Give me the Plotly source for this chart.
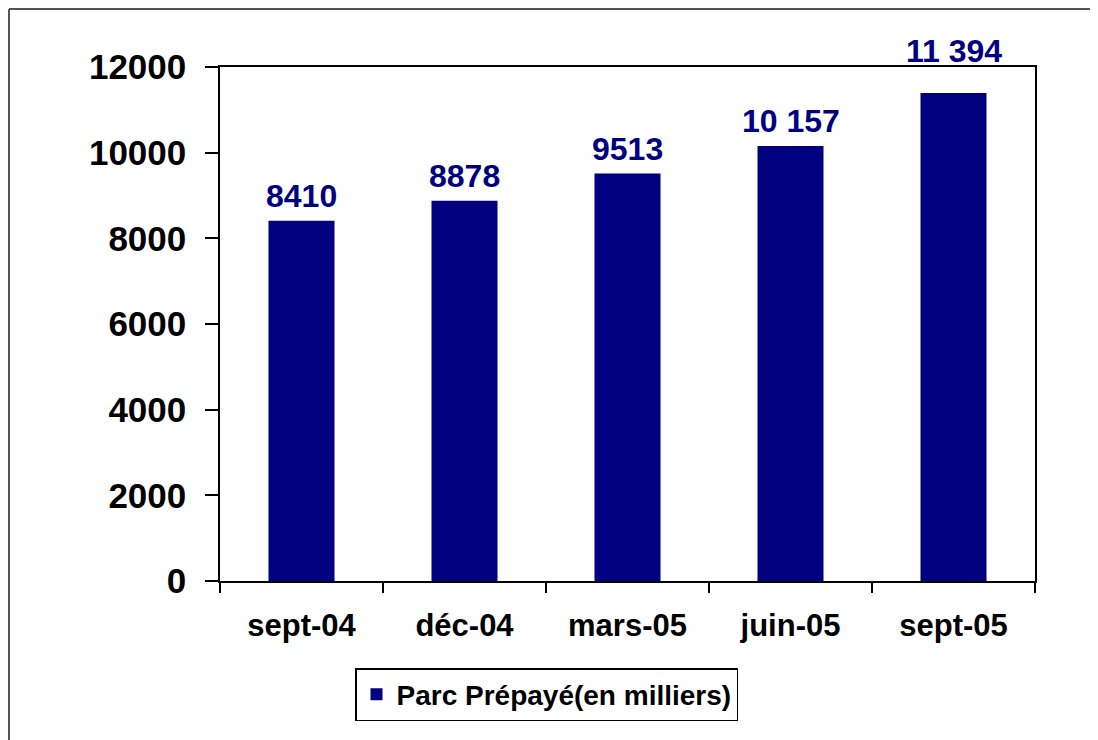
import plotly.graph_objects as go

categories = ["sept-04", "déc-04", "mars-05", "juin-05", "sept-05"]
values = [8410, 8878, 9513, 10157, 11394]
value_labels = ["8410", "8878", "9513", "10 157", "11 394"]
y_ticks = [0, 2000, 4000, 6000, 8000, 10000, 12000]
y_tick_labels = ["0", "2000", "4000", "6000", "8000", "10000", "12000"]
series_name = "Parc Prépayé(en milliers)"

# style: vertical offset (px) of each value label above its bar
label_shifts = [5, 5, 5, 5, 22]

NAVY = "#000080"
FONT = "Arial, Liberation Sans, sans-serif"

# page is offset by 8px body margin; figure fills the rest of the window
W, H = 1090, 732
OFF = 8
L, R, T, B = 220 - OFF, 1035 - OFF, 67 - OFF, 581 - OFF

def px(X):
    return (X - OFF - L) / (R - L)

def py(Y):
    return (B - (Y - OFF)) / (B - T)

fig = go.Figure()
fig.add_trace(go.Bar(
    x=categories, y=values, name=series_name,
    marker=dict(color=NAVY, line=dict(width=0)),
    cliponaxis=False,
))

for c, v, lab, sh in zip(categories, values, value_labels, label_shifts):
    fig.add_annotation(
        x=c, y=v, text=lab, showarrow=False,
        yanchor="bottom", yshift=sh,
        font=dict(family=FONT, size=32, color=NAVY, weight="bold"),
    )

fig.update_layout(
    width=W, height=H,
    margin=dict(l=L, r=W - R, t=T, b=H - B),
    paper_bgcolor="white", plot_bgcolor="white",
    bargap=0.595,
    showlegend=True,
    legend=dict(
        x=px(355), xanchor="left", y=py(668), yanchor="top",
        orientation="h",
        bordercolor="black", borderwidth=1.5,
        font=dict(family=FONT, size=28, color="black", weight="bold"),
        bgcolor="white",
    ),
    xaxis=dict(
        showline=True, linecolor="black", linewidth=1.5, mirror=True,
        ticks="outside", ticklen=10, tickcolor="black", tickwidth=1.5,
        tickson="boundaries", ticklabelstandoff=16,
        tickfont=dict(family=FONT, size=31, color="black", weight="bold"),
        showgrid=False,
    ),
    yaxis=dict(
        range=[0, 12000], tickvals=y_ticks, ticktext=y_tick_labels,
        showline=True, linecolor="black", linewidth=1.5, mirror=True,
        ticks="outside", ticklen=13, tickcolor="black", tickwidth=1.5,
        ticklabelstandoff=12,
        tickfont=dict(family=FONT, size=35, color="black", weight="bold"),
        showgrid=False, zeroline=False,
    ),
    shapes=[
        dict(type="line", xref="paper", yref="paper",
             x0=px(9), x1=px(9), y0=py(9), y1=py(745),
             line=dict(color="#555555", width=2)),
        dict(type="line", xref="paper", yref="paper",
             x0=px(9), x1=px(1098), y0=py(9), y1=py(9),
             line=dict(color="#555555", width=2)),
    ],
)

fig.write_html("out.html")
